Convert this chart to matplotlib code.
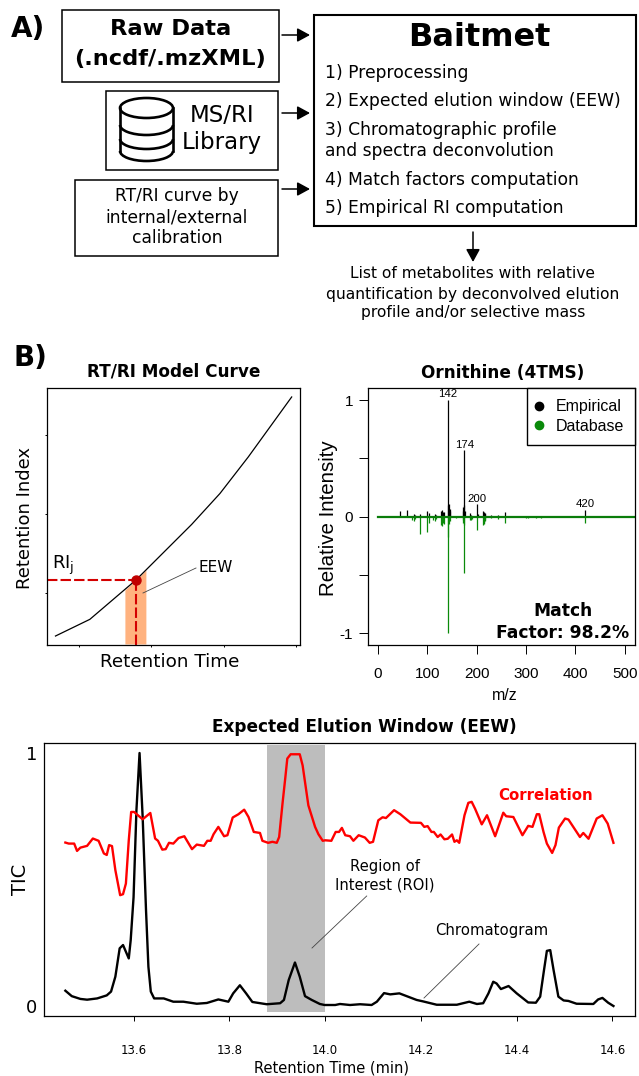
import matplotlib
matplotlib.use("Agg")
import matplotlib.pyplot as plt
from matplotlib.patches import Rectangle, Ellipse, Arc
from matplotlib.lines import Line2D

W, H = 639, 1076

# chromatogram panel
tic_time = [13.4576, 13.471, 13.489, 13.503, 13.524, 13.544, 13.553, 13.562, 13.571, 13.578, 13.59, 13.594,
            13.6, 13.606, 13.6125, 13.619, 13.626, 13.631, 13.636, 13.643, 13.663, 13.683, 13.704, 13.732,
            13.753, 13.777, 13.798, 13.808, 13.822, 13.835, 13.848, 13.878, 13.906, 13.914, 13.924, 13.937,
            13.947, 13.958, 13.972, 13.989, 13.999, 14.021, 14.031, 14.052, 14.073, 14.097, 14.108, 14.123,
            14.136, 14.155, 14.191, 14.205, 14.233, 14.275, 14.301, 14.317, 14.33, 14.341, 14.351, 14.358,
            14.367, 14.383, 14.4, 14.424, 14.44, 14.449, 14.457, 14.463, 14.47, 14.477, 14.487, 14.498,
            14.508, 14.525, 14.56, 14.57, 14.579, 14.591, 14.602]
tic_values = [.0605, .039, .028, .025, .03, .042, .057, .116, .228, .241, .188, .26,
              .43, .774, 1.0, .747, .379, .155, .057, .03, .03, .017, .017, .009,
              .012, .026, .017, .05, .082, .05, .016, .007, .011, .024, .103, .172,
              .116, .039, .024, .008, .004, .004, .008, .004, .007, .004, .017, .051,
              .046, .05, .024, .018, .005, .005, .017, .008, .011, .05, .096, .089,
              .067, .079, .05, .014, .013, .037, .142, .218, .221, .142, .037, .022,
              .02, .009, .008, .026, .032, .013, 0]

corr_time = [13.4576, 13.4646, 13.476, 13.482, 13.489, 13.503, 13.515, 13.527, 13.538, 13.544, 13.549, 13.555,
             13.562, 13.572, 13.578, 13.584, 13.59, 13.595, 13.601, 13.619, 13.635, 13.645, 13.651, 13.66,
             13.667, 13.674, 13.683, 13.694, 13.706, 13.722, 13.732, 13.747, 13.754, 13.761, 13.767, 13.777,
             13.789, 13.796, 13.807, 13.819, 13.831, 13.84, 13.851, 13.864, 13.869, 13.881, 13.89, 13.899,
             13.904, 13.911, 13.917, 13.921, 13.928, 13.947, 13.953, 13.965, 13.979, 13.986, 13.995, 14.0,
             14.013, 14.022, 14.029, 14.035, 14.042, 14.052, 14.059, 14.07, 14.083, 14.093, 14.1, 14.111,
             14.12, 14.127, 14.144, 14.157, 14.178, 14.2, 14.207, 14.214, 14.222, 14.227, 14.235, 14.241,
             14.249, 14.256, 14.265, 14.27, 14.275, 14.28, 14.291, 14.299, 14.306, 14.313, 14.327, 14.338,
             14.355, 14.372, 14.378, 14.393, 14.412, 14.424, 14.433, 14.442, 14.447, 14.456, 14.463, 14.474,
             14.481, 14.488, 14.501, 14.508, 14.532, 14.539, 14.55, 14.567, 14.579, 14.59, 14.602]
corr_values = [.646, .642, .642, .613, .626, .633, .662, .653, .603, .597, .636, .632,
               .537, .438, .442, .484, .655, .767, .767, .738, .763, .662, .653, .618,
               .62, .645, .642, .664, .671, .62, .638, .633, .653, .653, .679, .708,
               .671, .675, .745, .758, .776, .747, .688, .684, .653, .645, .649, .645,
               .668, .80, .905, .978, .995, .995, .951, .793, .708, .679, .653, .655,
               .653, .688, .688, .704, .675, .671, .653, .675, .666, .645, .649, .734,
               .746, .743, .774, .758, .725, .724, .708, .711, .688, .688, .668, .678,
               .659, .661, .678, .649, .655, .645, .754, .803, .807, .78, .718, .754,
               .671, .764, .75, .747, .675, .712, .708, .758, .758, .688, .642, .605,
               .636, .705, .741, .737, .668, .684, .661, .741, .754, .721, .645]

time_ticks = [13.6, 13.8, 14.0, 14.2, 14.4, 14.6]
roi_start, roi_end = 13.878, 13.999

# RT/RI curve
model_rt = [6.77, 11.52, 17.88, 25.58, 29.49, 33.41, 39.4]
model_ri = [450, 662, 1161, 1867, 2260, 2725, 3486]
target_rt, target_ri = 17.88, 1161
eew_rt = [16.36, 17.88, 19.26]
eew_ri = [1035, 1161, 1287]

# spectrum
emp_mz = [45, 59, 73, 75, 86, 100, 103, 115, 117, 128, 129, 130, 131, 133, 142, 143, 144, 145, 146, 147,
          172, 173, 174, 175, 176, 186, 188, 200, 202, 214, 215, 216, 217, 218, 230, 243, 258, 285, 320, 420]
emp_int = [.05, .06, .02, .015, .02, .05, .03, .02, .015, .05, .03, .06, .04, .04, 1, .1, .06, .11, .05, .07,
           .05, .08, .57, .1, .05, .03, .015, .105, .02, .05, .03, .04, .03, .02, .015, .015, .04, .01, .01, .06]
db_mz = [70, 73, 75, 86, 100, 103, 112, 115, 118, 128, 129, 130, 131, 133, 142, 143, 144, 147, 158,
         172, 173, 174, 175, 186, 188, 190, 200, 214, 215, 216, 217, 218, 230, 243, 258, 300, 305, 320, 330, 420]
db_int = [.03, .035, .02, .145, .135, .05, .03, .04, .02, .07, .05, .08, .05, .06, 1, .17, .06, .04, .015,
          .03, .05, .486, .07, .03, .025, .02, .11, .07, .05, .06, .04, .03, .015, .02, .05, .01, .015, .015, .01, .05]
peak_labels = [142, 174, 200, 420]
peak_heights = [1, .57, .105, .06]

fig = plt.figure(figsize=(W / 100, H / 100), dpi=100)


def add_axes_px(left, top, right, bottom):
    return fig.add_axes([left / W, 1 - bottom / H, (right - left) / W, (bottom - top) / H])


# B) left
ax1 = add_axes_px(46.5, 388, 300, 645)
ax1.set_xlim(5.53, 40.55)
ax1.set_ylim(336, 3600)
ax1.fill_between(eew_rt, 349, eew_ri, color="#ffb27f", lw=0)
ax1.plot(model_rt, model_ri, color="black", lw=0.9)
ax1.plot([5.53, target_rt], [target_ri, target_ri], color="#d40000", lw=1.5, dashes=(5, 1.5))
ax1.plot([target_rt, target_rt], [336, target_ri], color="#d40000", lw=1.5, dashes=(5, 1.5))
ax1.plot([target_rt], [target_ri], "o", color="#c00000", ms=6.5)
ax1.set_xticks([10, 20, 30, 40])
ax1.set_yticks([1000, 2000, 3000])
ax1.tick_params(labelbottom=False, labelleft=False, length=1.5, width=0.7)

# B) right
ax2 = add_axes_px(367.5, 388, 635, 645)
ax2.set_xlim(-21, 521)
ax2.set_ylim(-1.10, 1.103)
ax2.vlines(emp_mz, 0, emp_int, color="black", lw=0.9)
ax2.vlines(db_mz, 0, [-v for v in db_int], color="#0a8a0a", lw=0.9)
ax2.plot([0, 521], [0, 0], color="#0a7d0a", lw=1.6)
for mz, h in zip(peak_labels, peak_heights):
    ax2.text(mz + (1 if mz != 142 else 0), h + 0.005, str(mz), ha="center", va="bottom",
             fontsize=8.2, family="Liberation Sans")
ax2.set_xticks([0, 100, 200, 300, 400, 500])
ax2.set_yticks([-1, -0.5, 0, 0.5, 1])
ax2.set_yticklabels(["-1", "", "0", "", "1"])
ax2.tick_params(labelsize=11, length=6.5, width=0.7)
ax2.tick_params(axis="x", pad=9)
ax2.tick_params(axis="y", pad=4)
for lab in ax2.get_xticklabels() + ax2.get_yticklabels():
    lab.set_family("Liberation Sans")
handles = [Line2D([], [], ls="", marker="o", color="black", ms=6, label="Empirical"),
           Line2D([], [], ls="", marker="o", color="#0a8a0a", ms=6, label="Database")]
ax2.legend(handles=handles, loc="upper right", borderaxespad=0, fancybox=False, framealpha=1,
           edgecolor="black", prop={"family": "Liberation Sans", "size": 11.5}, handlelength=0.1,
           handletextpad=0.95, borderpad=0.7, labelspacing=0.3)

# bottom
ax3 = add_axes_px(44, 742.5, 635, 1015.5)
ax3.set_xlim(13.413, 14.647)
ax3.set_ylim(-0.0375, 1.0415)
ax3.add_patch(Rectangle((roi_start, -0.024), roi_end - roi_start, 1.055, color="#bdbdbd", lw=0))
ax3.plot(tic_time, tic_values, color="black", lw=1.7)
ax3.plot(corr_time, corr_values, color="#ff0000", lw=1.7)
ax3.set_xticks(time_ticks)
ax3.set_xticklabels(["13.6", "13.8", "14.0", "14.2", "14.4", "14.6"], fontsize=8.5)
ax3.set_yticks([0, 1])
ax3.set_yticklabels(["0", "1"], fontsize=13)
ax3.tick_params(axis="x", length=3.5, width=0.7, pad=17)
ax3.tick_params(axis="y", length=0, pad=5)

for ax in (ax1, ax2, ax3):
    for s in ax.spines.values():
        s.set_linewidth(0.9)

# everything else is laid out in pixels on a transparent overlay
ov = fig.add_axes([0, 0, 1, 1], facecolor="none")
ov.set_xlim(0, W)
ov.set_ylim(H, 0)
ov.axis("off")


def box(x0, y0, x1, y1, lw=1.1):
    ov.add_patch(Rectangle((x0, y0), x1 - x0, y1 - y0, fill=False, ec="black", lw=lw))


def arrow(x0, y0, x1, y1):
    ov.annotate("", xy=(x1, y1), xytext=(x0, y0),
                arrowprops=dict(arrowstyle="-|>,head_length=0.55,head_width=0.3", color="black", lw=1.1,
                                shrinkA=0, shrinkB=0, mutation_scale=14))


def txt(x, y, s, **kw):
    kw.setdefault("ha", "center")
    kw.setdefault("va", "center")
    ov.text(x, y, s, **kw)


txt(28, 29, "A)", fontsize=20, fontweight="bold")
txt(30, 358, "B)", fontsize=20, fontweight="bold")

box(62, 9.5, 279, 82)
box(105.5, 90.5, 277.5, 169.5)
box(75, 179.5, 277.5, 255.5)
box(314, 15, 636, 226, lw=1.5)
txt(170.5, 29, "Raw Data", fontsize=16.2, fontweight="bold")
txt(170.5, 59, "(.ncdf/.mzXML)", fontsize=16.2, fontweight="bold")
txt(222, 115, "MS/RI", fontsize=16.5)
txt(222, 143, "Library", fontsize=16.5)
txt(177, 196, "RT/RI curve by", fontsize=12.3)
txt(177, 217, "internal/external", fontsize=12.3)
txt(177, 238, "calibration", fontsize=12.3)

# database icon
ov.add_patch(Ellipse((146.5, 108), 53, 20, fill=False, ec="black", lw=1.9))
for ey in (125, 139, 151):
    ov.add_patch(Arc((146.5, ey), 53, 20, theta1=0, theta2=180, ec="black", lw=1.9))
ov.plot([120, 120], [108, 151], color="black", lw=1.9)
ov.plot([173, 173], [108, 151], color="black", lw=1.9)

for ay in (35, 113, 189):
    arrow(282, ay, 310, ay)
arrow(473, 232, 473, 262)

txt(479, 38, "Baitmet", fontsize=23, fontweight="bold")
items_y = [73, 101, 130, 151, 180, 208]
items = ["1) Preprocessing", "2) Expected elution window (EEW)", "3) Chromatographic profile",
         "and spectra deconvolution", "4) Match factors computation", "5) Empirical RI computation"]
for yy, s in zip(items_y, items):
    txt(325, yy, s, fontsize=12.3, ha="left")

txt(473, 274, "List of metabolites with relative", fontsize=11.2)
txt(473, 294, "quantification by deconvolved elution", fontsize=11.2)
txt(473, 313, "profile and/or selective mass", fontsize=11.2)

txt(174, 372, "RT/RI Model Curve", fontsize=12.2, fontweight="bold")
txt(503, 373, "Ornithine (4TMS)", fontsize=12.2, fontweight="bold")
txt(364, 727, "Expected Elution Window (EEW)", fontsize=12.2, fontweight="bold")

txt(170, 662, "Retention Time", fontsize=13.2)
txt(25, 518, "Retention Index", fontsize=13, rotation=90)
txt(63, 565, r"RI$_{\mathrm{j}}$", fontsize=13)
txt(199, 568, "EEW", fontsize=11, ha="left")
ov.plot([196, 143], [568, 593], color="#444444", lw=0.6)

txt(328, 518, "Relative Intensity", fontsize=14.8, rotation=90, family="Liberation Sans")
txt(505, 696, "m/z", fontsize=11.5, family="Liberation Sans")
txt(563, 611, "Match", fontsize=12.3, fontweight="bold")
txt(563, 633, "Factor: 98.2%", fontsize=12.3, fontweight="bold")

txt(546, 795, "Correlation", fontsize=10.8, fontweight="bold", color="#ff0000")
txt(385, 866, "Region of", fontsize=10.6)
txt(385, 885, "Interest (ROI)", fontsize=10.6)
ov.plot([366.7, 312], [896, 948], color="#444444", lw=0.6)
txt(491.5, 931, "Chromatogram", fontsize=10.7)
ov.plot([479, 424], [944, 998], color="#444444", lw=0.6)
txt(20, 879, "TIC", fontsize=14, rotation=90)
txt(332, 1068, "Retention Time (min)", fontsize=10.5)

fig.savefig("out.png", dpi=100)
plt.close(fig)
